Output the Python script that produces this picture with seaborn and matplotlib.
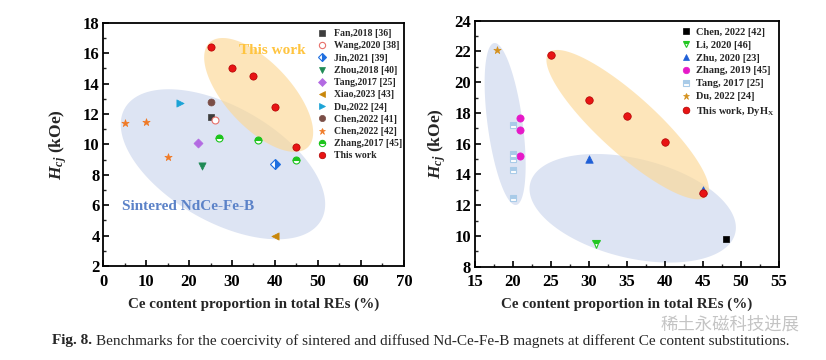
import numpy as np
import matplotlib
matplotlib.use("Agg")
import matplotlib.pyplot as plt
from matplotlib.lines import Line2D
import seaborn as sns

# ---------------- data (left panel: sintered) ----------------
fan_x, fan_y = [25], [11.8]
wang_x, wang_y = [26], [11.6]
jin_x, jin_y = [40], [8.7]
zhou_x, zhou_y = [23], [8.6]
tang_x, tang_y = [22], [10.1]
xiao_x, xiao_y = [40], [4.0]
du_x, du_y = [18], [12.7]
chen41_x, chen41_y = [25], [12.8]
chen42_x, chen42_y = [5, 10, 15], [11.4, 11.45, 9.15]
zhang17_x, zhang17_y = [27, 36, 45], [10.4, 10.3, 9.0]
this_x, this_y = [25, 30, 35, 40, 45], [16.4, 15.0, 14.5, 12.45, 9.8]

# ---------------- data (right panel: diffused) ----------------
chen22_x, chen22_y = [48], [9.8]
li_x, li_y = [31], [9.5]
zhu_x, zhu_y = [30, 45], [15.0, 13.0]
zhang19_x, zhang19_y = [21, 21, 21], [17.7, 16.9, 15.2]
tang17_x, tang17_y = [20, 20, 20, 20, 20], [17.2, 15.3, 15.0, 14.3, 12.5]
du22_x, du22_y = [18], [22.1]
dyhx_x, dyhx_y = [25, 30, 35, 40, 45], [21.75, 18.85, 17.8, 16.1, 12.8]

left_xticks = [0, 10, 20, 30, 40, 50, 60, 70]
left_yticks = [2, 4, 6, 8, 10, 12, 14, 16, 18]
right_xticks = [15, 20, 25, 30, 35, 40, 45, 50, 55]
right_yticks = [8, 10, 12, 14, 16, 18, 20, 22, 24]

sns.set_theme(style="white")
plt.rcParams['font.family'] = ['Liberation Serif', 'DejaVu Serif']
plt.rcParams['font.weight'] = 'bold'
plt.rcParams['mathtext.fontset'] = 'custom'
plt.rcParams['mathtext.it'] = 'Liberation Serif:bold:italic'
plt.rcParams['mathtext.rm'] = 'Liberation Serif:bold'
plt.rcParams['mathtext.bf'] = 'Liberation Serif:bold'

fig = plt.figure(figsize=(8.26, 3.6), dpi=100)
axL = fig.add_axes([0.1247, 0.2611, 0.3644, 0.6758])
axR = fig.add_axes([0.5745, 0.2592, 0.3686, 0.6833])

RED = '#e81414'

left_series = [
    ("Fan,2018 [36]", fan_x, fan_y, 's', '#3d3d3d', '#3d3d3d', 'full', 4.6),
    ("Wang,2020 [38]", wang_x, wang_y, 'o', 'white', '#e8706a', 'full', 5),
    ("Jin,2021 [39]", jin_x, jin_y, 'D', '#1f6fe0', '#1f6fe0', 'right', 4.6),
    ("Zhou,2018 [40]", zhou_x, zhou_y, 'v', '#1f8a55', '#1f8a55', 'full', 5.2),
    ("Tang,2017 [25]", tang_x, tang_y, 'D', '#b36ae2', '#b36ae2', 'full', 4.6),
    ("Xiao,2023 [43]", xiao_x, xiao_y, '<', '#c8860a', '#c8860a', 'full', 5.2),
    ("Du,2022 [24]", du_x, du_y, '>', '#1ba3d6', '#1ba3d6', 'full', 5.2),
    ("Chen,2022 [41]", chen41_x, chen41_y, 'o', '#7a4e47', '#7a4e47', 'full', 5),
    ("Chen,2022 [42]", chen42_x, chen42_y, '*', '#f07a26', '#f07a26', 'full', 5.5),
    ("Zhang,2017 [45]", zhang17_x, zhang17_y, 'o', '#1cc41c', '#1cc41c', 'top', 5),
    ("This work", this_x, this_y, 'o', RED, '#b00000', 'full', 5.2),
]

right_series = [
    ("Chen, 2022 [42]", chen22_x, chen22_y, 's', '#000000', '#000000', 'full', 4.8),
    ("Li, 2020 [46]", li_x, li_y, 'v', '#22c722', '#22c722', 'top', 5.4),
    ("Zhu, 2020 [23]", zhu_x, zhu_y, '^', '#1f5fd6', '#1f5fd6', 'full', 5.4),
    ("Zhang, 2019 [45]", zhang19_x, zhang19_y, 'o', '#e619c8', '#e619c8', 'full', 5.2),
    ("Tang, 2017 [25]", tang17_x, tang17_y, 's', '#a9cbe8', '#a9cbe8', 'top', 4.8),
    ("Du, 2022 [24]", du22_x, du22_y, '*', '#d4901c', '#d4901c', 'full', 5.5),
    ("This work, DyH$_\\mathrm{X}$", dyhx_x, dyhx_y, 'o', RED, '#b00000', 'full', 5.4),
]


def style_axes(ax, xlim, ylim, xticks, yticks, xminor, yminor):
    ax.set_xlim(*xlim)
    ax.set_ylim(*ylim)
    ax.set_xticks(xticks)
    ax.set_yticks(yticks)
    ax.set_xticks(xminor, minor=True)
    ax.set_yticks(yminor, minor=True)
    ax.tick_params(which='major', direction='in', length=4, width=1.2,
                   labelsize=12, colors='black', bottom=True, left=True,
                   top=False, right=False)
    ax.tick_params(axis='x', which='major', pad=5.5)
    ax.tick_params(axis='y', which='major', pad=2.5)
    ax.tick_params(which='minor', direction='in', length=2.5, width=1.0,
                   bottom=True, left=True, top=False, right=False)
    for lab in ax.get_xticklabels() + ax.get_yticklabels():
        lab.set_fontweight('bold')
    for sp in ax.spines.values():
        sp.set_visible(True)
        sp.set_color('black')
        sp.set_linewidth(1.3)
    ax.grid(False)
    ax.set_facecolor('white')


style_axes(axL, (0, 70), (2, 18), left_xticks, left_yticks,
           np.arange(5, 70, 10), np.arange(3, 18, 2))
style_axes(axR, (15, 55), (8, 24), right_xticks, right_yticks,
           np.arange(17.5, 55, 5), np.arange(9, 24, 2))


def ellipse(ax, cx, cy, a, b, ang, color, alpha, z):
    c = ax.transData.transform((cx, cy))
    t = np.linspace(0, 2 * np.pi, 300)
    th = np.deg2rad(ang)
    px = c[0] + a * np.cos(t) * np.cos(th) - b * np.sin(t) * np.sin(th)
    py = c[1] + a * np.cos(t) * np.sin(th) + b * np.sin(t) * np.cos(th)
    pts = ax.transData.inverted().transform(np.column_stack([px, py]))
    ax.fill(pts[:, 0], pts[:, 1], color=color, alpha=alpha, lw=0, zorder=z)


BLUE_E = '#dde4f3'
ORANGE_E = '#fcd895'
ellipse(axL, 27.9, 8.69, 113, 57.5, -29.7, BLUE_E, 1.0, 0.5)
ellipse(axL, 36.2, 13.25, 71.8, 32.5, -46.9, ORANGE_E, 0.65, 0.6)
ellipse(axR, 19.02, 17.28, 81.7, 17.5, -82.3, BLUE_E, 1.0, 0.5)
ellipse(axR, 35.78, 11.8, 105.5, 49.6, -13.7, BLUE_E, 1.0, 0.5)
ellipse(axR, 35.12, 17.24, 106.6, 28.6, -42.2, ORANGE_E, 0.65, 0.6)


def draw(ax, series):
    handles = []
    for lab, xs, ys, m, fc, ec, fs, ms in series:
        if fs == 'full':
            sns.scatterplot(x=xs, y=ys, ax=ax, marker=m, color=fc,
                            edgecolor=ec, linewidth=0.8 if fc == 'white' else 0.5,
                            s=ms ** 2, zorder=3, legend=False)
        else:
            ax.plot(xs, ys, linestyle='none', marker=m, markersize=ms,
                    color=fc, markeredgecolor=ec, markeredgewidth=0.8,
                    fillstyle=fs, markerfacecoloralt='white', zorder=3)
        handles.append(Line2D([], [], linestyle='none', marker=m,
                              markersize=ms * 0.9, markerfacecolor=fc,
                              markeredgecolor=ec,
                              markeredgewidth=0.8 if fc == 'white' or fs != 'full' else 0.5,
                              fillstyle=fs, markerfacecoloralt='white',
                              label=lab))
    return handles


hL = draw(axL, left_series)
hR = draw(axR, right_series)

legL = axL.legend(handles=hL, loc='upper left', bbox_to_anchor=(0.711, 0.973),
                  frameon=False, borderpad=0, borderaxespad=0,
                  prop={'family': 'Liberation Serif', 'weight': 'bold', 'size': 7},
                  handlelength=1.0, handletextpad=0.7, labelspacing=0.33)
legR = axR.legend(handles=hR, loc='upper left', bbox_to_anchor=(0.679, 0.973),
                  frameon=False, borderpad=0, borderaxespad=0,
                  prop={'family': 'Liberation Serif', 'weight': 'bold', 'size': 7.5},
                  handlelength=1.0, handletextpad=0.46, labelspacing=0.35)

axL.text(39.4, 16.16, "This work", color='#ffc43f', fontsize=11,
         fontweight='bold', ha='center', va='center', zorder=4)
axL.text(4.4, 5.9, "Sintered NdCe-Fe-B", color='#5b82c8', fontsize=11,
         fontweight='bold', ha='left', va='center', zorder=4)

for ax, ly, lx in ((axL, -0.131, -0.113), (axR, -0.127, -0.087)):
    ax.set_xlabel("Ce content proportion in total REs (%)", fontsize=10.8,
                  fontweight='bold')
    ax.xaxis.set_label_coords(0.5, ly)
    ax.set_ylabel("$H_{cj}$ (kOe)", fontsize=12.5, fontweight='bold')
    ax.yaxis.set_label_coords(lx, 0.5)

# watermark
fig.text(0.80, 0.097, "\u7a00\u571f\u6c38\u78c1\u79d1\u6280\u8fdb\u5c55",
         family=['Noto Sans CJK SC', 'DejaVu Sans'], fontsize=12.5,
         color='#c4c4c4', ha='left', va='center', fontweight='normal')

# caption
t1 = fig.text(0.063, 0.053, "Fig. 8.", fontsize=11, fontweight='bold',
              ha='left', va='center', family='Liberation Serif')
fig.canvas.draw()
bb = t1.get_window_extent()
fig.text((bb.x1 + 4) / fig.bbox.width, 0.053,
         "Benchmarks for the coercivity of sintered and diffused Nd-Ce-Fe-B "
         "magnets at different Ce content substitutions.",
         fontsize=11, fontweight='normal', ha='left', va='center',
         family='Liberation Serif')

fig.savefig("out.png", dpi=100, facecolor='white')
